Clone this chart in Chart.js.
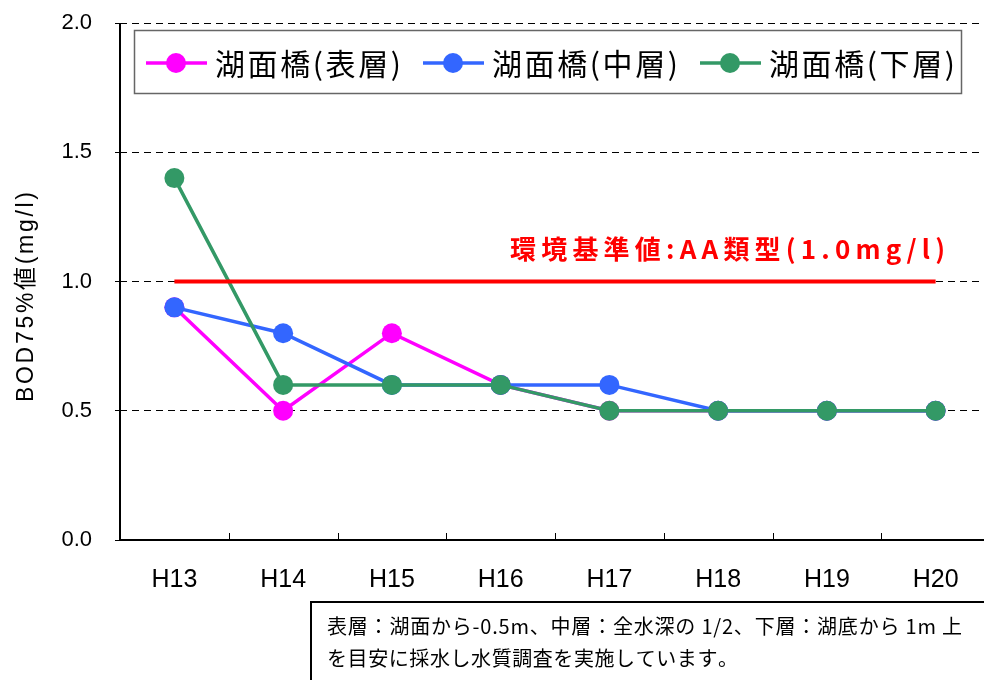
<!DOCTYPE html>
<html>
<head>
<meta charset="utf-8">
<script src="https://cdn.jsdelivr.net/npm/chart.js@4/dist/chart.umd.min.js"></script>
<style>
html,body{margin:0;padding:0;background:#fff;}
#wrap{width:984px;height:680px;overflow:hidden;position:relative;}
canvas{display:block;}
</style>
</head>
<body>
<div id="wrap"><canvas id="c" width="1000" height="680"></canvas></div>
<script>
// ---- data ----
const categories = ['H13','H14','H15','H16','H17','H18','H19','H20'];
const seriesLabels = ['湖面橋(表層)','湖面橋(中層)','湖面橋(下層)'];
const surfaceValues = [0.9, 0.5, 0.8, 0.6, 0.5, 0.5, 0.5, 0.5];
const middleValues  = [0.9, 0.8, 0.6, 0.6, 0.6, 0.5, 0.5, 0.5];
const bottomValues  = [1.4, 0.6, 0.6, 0.6, 0.5, 0.5, 0.5, 0.5];
const standardValues = [1.0, 1.0, 1.0, 1.0, 1.0, 1.0, 1.0, 1.0];
const yTicks = [0, 0.5, 1.0, 1.5, 2.0];
const standardLabel = '環境基準値:AA類型(1.0mg/l)';
const yTitle = 'BOD75%値(mg/l)';
const noteLines = ['表層：湖面から-0.5m、中層：全水深の 1/2、下層：湖底から 1m 上','を目安に採水し水質調査を実施しています。'];

const colors = ['#FF00FF', '#3366FF', '#339966'];
const JP = '"Noto Sans CJK JP", sans-serif';
const LAT = '"Liberation Sans", Arial, "Noto Sans CJK JP", sans-serif';

function fitText(ctx, text, x, y, width) {
  const chars = Array.from(text);
  let total = 0;
  const ws = chars.map(ch => { const w = ctx.measureText(ch).width; total += w; return w; });
  const gap = chars.length > 1 ? (width - total) / (chars.length - 1) : 0;
  let cx = x;
  ctx.textAlign = 'left';
  chars.forEach((ch, i) => { ctx.fillText(ch, cx, y); cx += ws[i] + gap; });
}

const decor = {
  id: 'decor',
  afterDraw(chart) {
    const ctx = chart.ctx;
    const xs = chart.scales.x;
    const area = chart.chartArea;
    ctx.save();
    // axis lines (solid)
    ctx.setLineDash([]);
    ctx.strokeStyle = '#000'; ctx.lineWidth = 2;
    ctx.beginPath(); ctx.moveTo(area.left, area.top); ctx.lineTo(area.left, area.bottom); ctx.lineTo(area.right, area.bottom); ctx.stroke();
    // x tick marks inside the plot, at category boundaries
    ctx.lineWidth = 1;
    const step = xs.getPixelForValue(1) - xs.getPixelForValue(0);
    for (let i = 1; i < categories.length; i++) {
      const px = Math.round(xs.getPixelForValue(i) - step / 2) + 0.5;
      ctx.beginPath(); ctx.moveTo(px, area.bottom); ctx.lineTo(px, area.bottom - 7); ctx.stroke();
    }
    // y axis title
    ctx.save();
    ctx.translate(27, 297); ctx.rotate(-Math.PI / 2);
    ctx.fillStyle = '#000'; ctx.font = '23px ' + LAT; ctx.textBaseline = 'middle';
    fitText(ctx, yTitle, -105, 0, 210);
    ctx.restore();
    // legend box
    ctx.fillStyle = '#fff'; ctx.fillRect(134, 30, 828, 64);
    ctx.strokeStyle = '#666'; ctx.lineWidth = 1.5; ctx.strokeRect(134.5, 30.5, 827, 63);
    const lx = [146, 423, 700];
    ctx.font = '30px ' + JP; ctx.textBaseline = 'middle';
    seriesLabels.forEach((lab, i) => {
      ctx.strokeStyle = colors[i]; ctx.lineWidth = 3.5;
      ctx.beginPath(); ctx.moveTo(lx[i], 63); ctx.lineTo(lx[i] + 61, 63); ctx.stroke();
      ctx.fillStyle = colors[i];
      ctx.beginPath(); ctx.arc(lx[i] + 30, 63, 10, 0, Math.PI * 2); ctx.fill();
      ctx.fillStyle = '#000';
      fitText(ctx, lab, lx[i] + 69, 64, 186);
    });
    // standard label
    ctx.fillStyle = '#FF0000'; ctx.font = 'bold 26px ' + JP; ctx.textBaseline = 'middle';
    fitText(ctx, standardLabel, 510, 249, 435);
    // note box
    ctx.fillStyle = '#fff'; ctx.fillRect(310, 601, 700, 100);
    ctx.strokeStyle = '#000'; ctx.lineWidth = 2; ctx.strokeRect(311, 602, 700, 100);
    ctx.fillStyle = '#000'; ctx.font = '20px ' + JP; ctx.textBaseline = 'middle';
    fitText(ctx, noteLines[0], 327, 626, 635);
    fitText(ctx, noteLines[1], 327, 658, 411);
    ctx.restore();
  }
};

const lineDs = (label, data, color, order) => ({
  label, data, order,
  borderColor: color, backgroundColor: color,
  borderWidth: 3.5, pointRadius: 10, pointHoverRadius: 10,
  pointBorderWidth: 0, pointBackgroundColor: color, tension: 0
});

new Chart(document.getElementById('c'), {
  type: 'line',
  data: {
    labels: categories,
    datasets: [
      lineDs(seriesLabels[0], surfaceValues, colors[0], 3),
      lineDs(seriesLabels[1], middleValues, colors[1], 2),
      lineDs(seriesLabels[2], bottomValues, colors[2], 1),
      { label: '環境基準値', data: standardValues, order: 0, borderColor: '#FF0000',
        borderWidth: 4, pointRadius: 0, pointHoverRadius: 0, tension: 0 }
    ]
  },
  options: {
    responsive: false, animation: false,
    layout: { padding: { top: 23, right: 10, left: 0, bottom: 0 } },
    plugins: { legend: { display: false }, tooltip: { enabled: false } },
    scales: {
      x: {
        type: 'category', offset: true,
        grid: { display: false, drawTicks: false, offset: true },
        border: { display: false },
        ticks: { color: '#000', font: { family: LAT, size: 25 }, padding: 25, maxRotation: 0, autoSkip: false },
        afterFit(s) { s.height = 140; s.paddingTop = 0; s.paddingBottom = 0; }
      },
      y: {
        min: 0, max: 2,
        afterBuildTicks(s) { s.ticks = yTicks.map(v => ({ value: v })); },
        grid: {
          color: c => (c.tick && c.tick.value === 0) ? 'rgba(0,0,0,0)' : '#000',
          lineWidth: 1, drawTicks: true, tickLength: 5,
          tickColor: '#000', tickBorderDash: [], tickWidth: 1
        },
        border: { display: false, dash: [7, 5] },
        ticks: { color: '#000', font: { family: LAT, size: 22 }, padding: 23,
                 callback: v => Number(v).toFixed(1) },
        afterFit(s) { s.width = 120; s.paddingTop = 0; s.paddingBottom = 0; }
      }
    }
  },
  plugins: [decor]
});
</script>
</body>
</html>
